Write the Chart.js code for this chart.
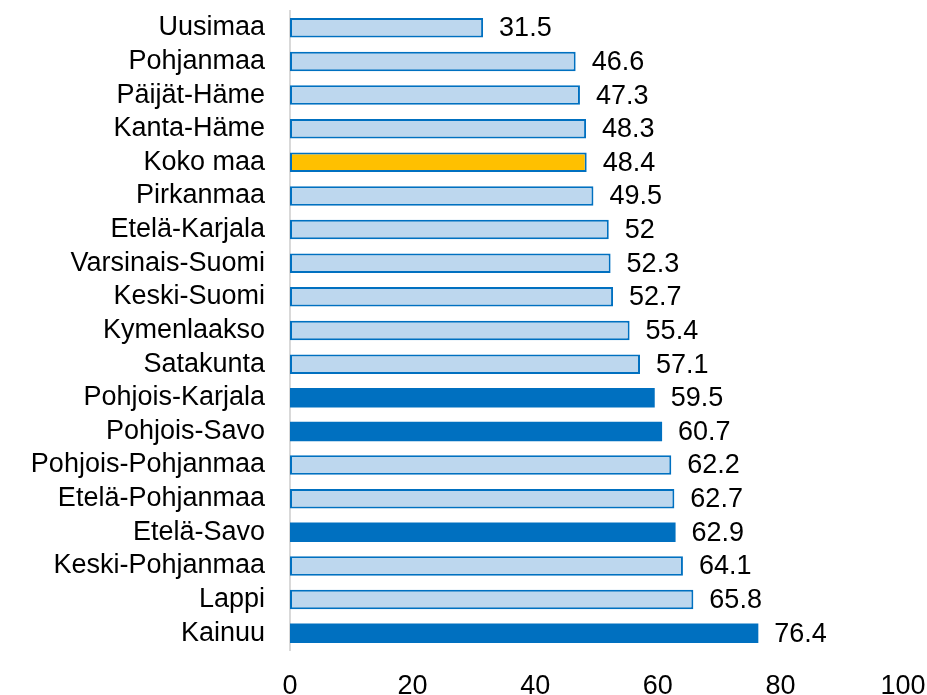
<!DOCTYPE html>
<html>
<head>
<meta charset="utf-8">
<script src="https://cdn.jsdelivr.net/npm/chart.js@4"></script>
<style>
html,body{margin:0;padding:0;background:#fff;}
#wrap{width:927px;height:695px;position:relative;}
</style>
</head>
<body>
<div id="wrap"><canvas id="c"></canvas></div>
<script>
const regions = ["Uusimaa","Pohjanmaa","Päijät-Häme","Kanta-Häme","Koko maa","Pirkanmaa","Etelä-Karjala","Varsinais-Suomi","Keski-Suomi","Kymenlaakso","Satakunta","Pohjois-Karjala","Pohjois-Savo","Pohjois-Pohjanmaa","Etelä-Pohjanmaa","Etelä-Savo","Keski-Pohjanmaa","Lappi","Kainuu"];
const values = [31.5,46.6,47.3,48.3,48.4,49.5,52,52.3,52.7,55.4,57.1,59.5,60.7,62.2,62.7,62.9,64.1,65.8,76.4];
const highlighted = ["Pohjois-Karjala","Pohjois-Savo","Etelä-Savo","Kainuu"];
const totalLabel = "Koko maa";
const xTicks = [0,20,40,60,80,100];

const fillColors = regions.map(r => r === totalLabel ? "#FFC000" : (highlighted.includes(r) ? "#0070C0" : "#BDD7EE"));
const borderColors = regions.map(() => "#0070C0");
const borderWidths = regions.map(r => highlighted.includes(r) ? 0 : 2);

const FONT = "'Liberation Sans', Arial, sans-serif";

const valueLabels = {
  id: 'valueLabels',
  afterDatasetsDraw(chart) {
    const ctx = chart.ctx;
    const meta = chart.getDatasetMeta(0);
    ctx.save();
    ctx.font = "27px " + FONT;
    ctx.fillStyle = "#000";
    ctx.textAlign = "left";
    ctx.textBaseline = "middle";
    meta.data.forEach((bar, i) => {
      ctx.fillText(String(values[i]), bar.x + 16, bar.y + 1);
    });
    ctx.restore();
  }
};

new Chart(document.getElementById('c'), {
  type: 'bar',
  data: {
    labels: regions,
    datasets: [{
      data: values,
      backgroundColor: fillColors,
      borderColor: borderColors,
      borderWidth: borderWidths,
      borderSkipped: false,
      categoryPercentage: 1,
      barPercentage: 0.58
    }]
  },
  options: {
    indexAxis: 'y',
    responsive: true,
    maintainAspectRatio: false,
    animation: false,
    layout: { padding: { left: 0, right: 24, top: 11, bottom: 0 } },
    plugins: { legend: { display: false }, tooltip: { enabled: false } },
    scales: {
      x: {
        min: 0, max: 100,
        afterBuildTicks: s => { s.ticks = xTicks.map(v => ({ value: v })); },
        afterFit: s => { s.height = 45; s.paddingLeft = 0; s.paddingRight = 0; },
        grid: { display: false, drawTicks: false },
        border: { display: false },
        ticks: { font: { family: FONT, size: 27 }, color: "#000", padding: 20, maxRotation: 0 }
      },
      y: {
        afterFit: s => { s.width = 290; s.paddingTop = 0; s.paddingBottom = 0; },
        grid: { display: false, drawTicks: false },
        border: { display: true, color: "#D9D9D9", width: 2 },
        ticks: { font: { family: FONT, size: 27 }, color: "#000", padding: 25, autoSkip: false }
      }
    }
  },
  plugins: [valueLabels]
});
</script>
</body>
</html>
